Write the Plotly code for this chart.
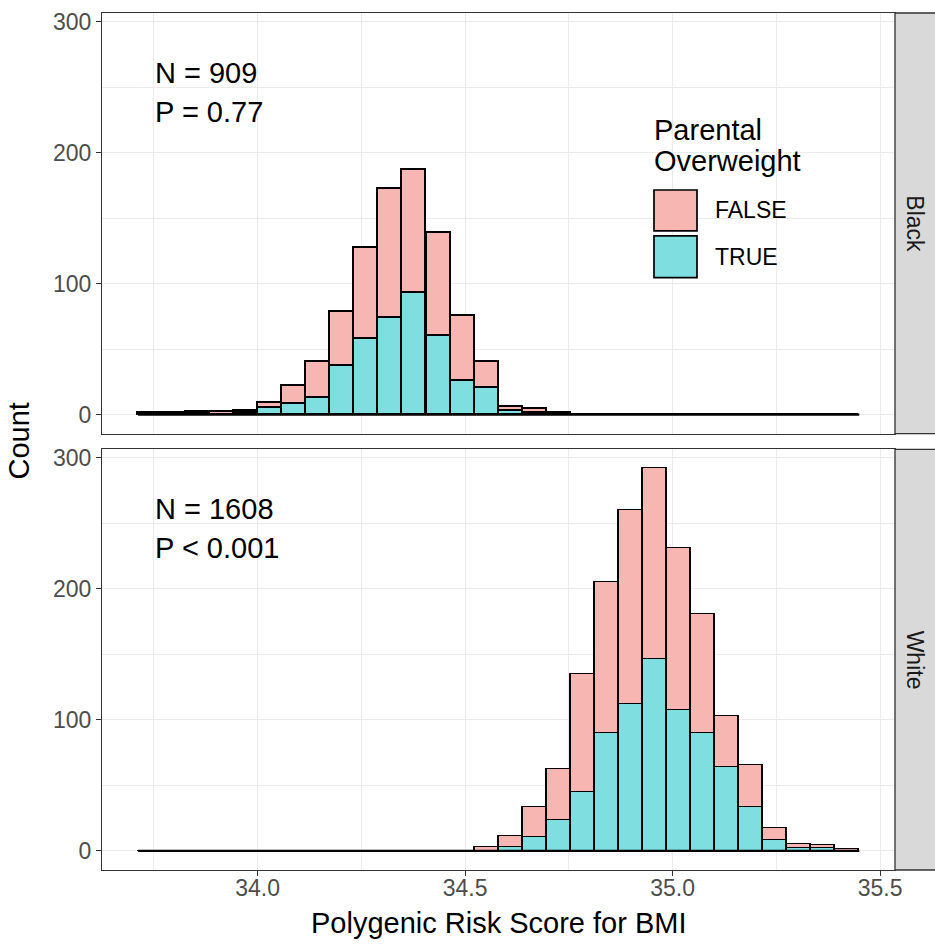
import plotly.graph_objects as go

# ---------------- data ----------------
bin_width = 0.0579
bin_centers = [33.741, 33.799, 33.857, 33.915, 33.973, 34.031, 34.088, 34.146,
               34.204, 34.262, 34.320, 34.378, 34.436, 34.494, 34.552, 34.610,
               34.668, 34.726, 34.783, 34.841, 34.899, 34.957, 35.015, 35.073,
               35.131, 35.189, 35.247, 35.305, 35.363, 35.421]

black_true = [0, 0, 1, 0, 1, 5, 8, 13, 37, 58, 74, 93, 60, 26, 20, 3, 1, 0,
              0, 0, 0, 0, 0, 0, 0, 0, 0, 0, 0, 0]
black_false = [1, 1, 1, 2, 2, 4, 14, 27, 41, 69, 98, 94, 79, 49, 20, 3, 3, 1,
               0, 0, 0, 0, 0, 0, 0, 0, 0, 0, 0, 0]
white_true = [0, 0, 0, 0, 0, 0, 0, 0, 0, 0, 0, 0, 0, 0, 0, 3, 10, 23,
              45, 90, 112, 146, 107, 90, 64, 33, 8, 2, 2, 0]
white_false = [0, 0, 0, 0, 0, 0, 0, 0, 0, 0, 0, 0, 0, 0, 3, 8, 23, 39,
               90, 115, 148, 146, 124, 91, 39, 32, 9, 3, 2, 1]

x_ticks = [34.0, 34.5, 35.0, 35.5]
x_tick_labels = ["34.0", "34.5", "35.0", "35.5"]
y_ticks = [0, 100, 200, 300]
y_tick_labels = ["0", "100", "200", "300"]
panel_names = ["Black", "White"]
n_labels = ["N = 909", "N = 1608"]
p_labels = ["P = 0.77", "P < 0.001"]
legend_title_lines = ["Parental", "Overweight"]
groups = ["FALSE", "TRUE"]
x_title = "Polygenic Risk Score for BMI"
y_title = "Count"

# ---------------- style ----------------
FONT = "Liberation Sans, Arial, sans-serif"
COL_FALSE = "#F8B6B2"
COL_TRUE = "#7EDEE0"
OUTLINE = "#000000"
GRID = "#EBEBEB"
BORDER = "#333333"

fig = go.Figure()
series = [(black_true, black_false), (white_true, white_false)]
for i, (t, f) in enumerate(series):
    xa = "x" if i == 0 else "x2"
    ya = "y" if i == 0 else "y2"
    fig.add_trace(go.Bar(x=bin_centers, y=t, width=bin_width, name=groups[1],
                         marker=dict(color=COL_TRUE, line=dict(color=OUTLINE, width=1.7)),
                         xaxis=xa, yaxis=ya, showlegend=False))
    fig.add_trace(go.Bar(x=bin_centers, y=f, width=bin_width, name=groups[0],
                         marker=dict(color=COL_FALSE, line=dict(color=OUTLINE, width=1.7)),
                         xaxis=xa, yaxis=ya, showlegend=False))
    # zero-height bins drawn as a baseline, like ggplot
    fig.add_trace(go.Scatter(x=[bin_centers[0] - bin_width / 2, bin_centers[-1] + bin_width / 2],
                             y=[0, 0], mode="lines", line=dict(color=OUTLINE, width=2.2),
                             xaxis=xa, yaxis=ya, showlegend=False, hoverinfo="skip"))

x_range = [33.625, 35.536]
y_range = [-14.6, 306.6]

xcommon = dict(range=x_range, tickmode="array", tickvals=x_ticks, ticktext=x_tick_labels,
               showgrid=True, gridcolor=GRID, gridwidth=1.4, zeroline=False,
               showline=True, mirror=True, linecolor=BORDER, linewidth=1.3,
               minor=dict(tick0=33.75, dtick=0.5, showgrid=True, gridcolor=GRID, gridwidth=0.8, ticks=""),
               domain=[0, 1])
ycommon = dict(range=y_range, tickmode="array", tickvals=y_ticks, ticktext=y_tick_labels,
               showgrid=True, gridcolor=GRID, gridwidth=1.4, zeroline=False,
               showline=True, mirror=True, linecolor=BORDER, linewidth=1.3,
               ticks="outside", ticklen=5, tickwidth=1.3, tickcolor=BORDER,
               tickfont=dict(family=FONT, size=23, color="#4D4D4D"),
               minor=dict(tick0=50, dtick=100, showgrid=True, gridcolor=GRID, gridwidth=0.8, ticks=""))

top_dom = [0.5091, 1.0]
bot_dom = [0.0, 0.4909]

fig.update_layout(
    width=935, height=944,
    margin=dict(l=102, r=40, t=9, b=74),
    plot_bgcolor="white", paper_bgcolor="white",
    barmode="stack", bargap=0, showlegend=False,
    font=dict(family=FONT, color="black"),
    xaxis=dict(xcommon, anchor="y", showticklabels=False, ticks=""),
    xaxis2=dict(xcommon, anchor="y2", ticks="outside", ticklen=5, tickwidth=1.3, tickcolor=BORDER,
                ticklabelstandoff=-8,
                tickfont=dict(family=FONT, size=23, color="#4D4D4D")),
    yaxis=dict(ycommon, domain=top_dom, anchor="x"),
    yaxis2=dict(ycommon, domain=bot_dom, anchor="x2"),
)

shapes = []
annotations = []

# facet strips
for i, name in enumerate(panel_names):
    dom = top_dom if i == 0 else bot_dom
    shapes.append(dict(type="rect", xref="paper", yref="paper", x0=1.0, x1=1.07,
                       y0=dom[0], y1=dom[1], fillcolor="#D9D9D9",
                       line=dict(color=BORDER, width=1.3), layer="above"))
    annotations.append(dict(text=name, xref="paper", yref="paper",
                            x=(915 - 102) / 793, y=(dom[0] + dom[1]) / 2,
                            showarrow=False, textangle=90, xanchor="center", yanchor="middle",
                            font=dict(family=FONT, size=23, color="#1A1A1A")))

# N / P labels
for i in range(2):
    ya = "y" if i == 0 else "y2"
    xa = "x" if i == 0 else "x2"
    annotations.append(dict(text=n_labels[i], xref=xa, yref=ya, x=33.748, y=261,
                            showarrow=False, xanchor="left", yanchor="middle",
                            font=dict(family=FONT, size=29, color="black")))
    annotations.append(dict(text=p_labels[i], xref=xa, yref=ya, x=33.748, y=231,
                            showarrow=False, xanchor="left", yanchor="middle",
                            font=dict(family=FONT, size=29, color="black")))

# custom legend (inside top panel)
def dx(px):
    return (px - 102) / 793

def dy(py):
    return (431.7 - py) / 422.4

annotations.append(dict(text=legend_title_lines[0], xref="x domain", yref="y domain",
                        x=dx(652), y=dy(127), showarrow=False, xanchor="left", yanchor="middle",
                        font=dict(family=FONT, size=29, color="black")))
annotations.append(dict(text=legend_title_lines[1], xref="x domain", yref="y domain",
                        x=dx(652), y=dy(158), showarrow=False, xanchor="left", yanchor="middle",
                        font=dict(family=FONT, size=29, color="black")))
key_rows = [(groups[0], COL_FALSE, 187, 228), (groups[1], COL_TRUE, 233, 275)]
for label, col, y0, y1 in key_rows:
    shapes.append(dict(type="rect", xref="x domain", yref="y domain",
                       x0=dx(654), x1=dx(697), y0=dy(y1), y1=dy(y0),
                       fillcolor=col, line=dict(color=OUTLINE, width=1.7), layer="above"))
    annotations.append(dict(text=label, xref="x domain", yref="y domain",
                            x=dx(713), y=dy((y0 + y1) / 2), showarrow=False,
                            xanchor="left", yanchor="middle",
                            font=dict(family=FONT, size=23, color="black")))

# axis titles
annotations.append(dict(text=x_title, xref="paper", yref="paper", x=0.5, y=(870 - 923) / 861,
                        showarrow=False, xanchor="center", yanchor="middle",
                        font=dict(family=FONT, size=29, color="black")))
annotations.append(dict(text=y_title, xref="paper", yref="paper", x=(18 - 102) / 793, y=0.5,
                        showarrow=False, xanchor="center", yanchor="middle", textangle=-90,
                        font=dict(family=FONT, size=29, color="black")))

fig.update_layout(shapes=shapes, annotations=annotations)
fig.write_html("out.html", config={"displayModeBar": False},
               post_script="document.body.style.margin='0px';document.body.style.overflow='hidden';")
